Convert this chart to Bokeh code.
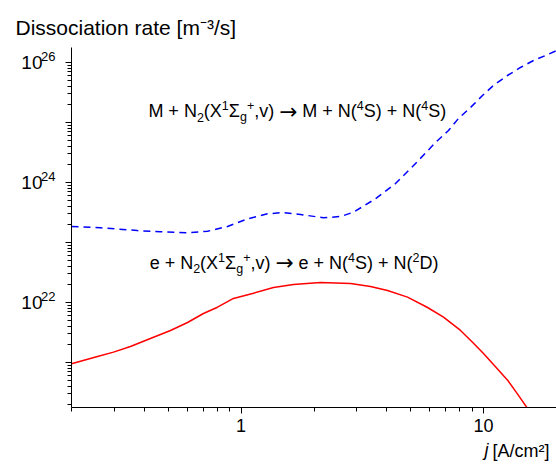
import numpy as np
from bokeh.plotting import figure
from bokeh.models import (Label, FixedTicker, Range1d, CustomJSTickFormatter, Title,
                          LogAxis, LogScale)
from bokeh.embed import file_html
from bokeh.resources import INLINE

# ---------------- data ----------------
# M + N2 -> M + N(4S) + N(4S)   (blue, dashed)
j_heavy = [0.2, 0.263, 0.374, 0.466, 0.602, 0.728, 0.880, 1.064, 1.286, 1.497, 1.760,
           2.189, 2.572, 2.910, 3.585, 4.336, 5.244, 6.340, 7.174, 7.887, 8.840, 9.906,
           10.99, 12.56, 14.21, 16.08, 18.03, 20.0]
rate_heavy = [1.85e23, 1.76e23, 1.58e23, 1.51e23, 1.45e23, 1.54e23, 1.85e23, 2.48e23,
              3.01e23, 3.16e23, 2.93e23, 2.58e23, 2.71e23, 3.20e23, 5.35e23, 9.62e23,
              2.07e24, 4.64e24, 7.36e24, 1.17e25, 1.78e25, 2.82e25, 4.14e25, 6.07e25,
              8.26e25, 1.08e26, 1.31e26, 1.58e26]

# e + N2 -> e + N(4S) + N(2D)   (red, solid)
j_elec = [0.2, 0.256, 0.298, 0.350, 0.423, 0.512, 0.602, 0.700, 0.800, 0.931, 1.126,
          1.361, 1.646, 2.127, 2.83, 3.42, 4.02, 4.86, 5.88, 6.84, 8.04, 9.01, 10.0,
          11.4, 12.6, 13.8, 15.2]
rate_elec = [9.5e20, 1.26e21, 1.49e21, 1.85e21, 2.51e21, 3.42e21, 4.64e21, 6.56e21,
             8.35e21, 1.17e22, 1.43e22, 1.78e22, 2.00e22, 2.15e22, 2.07e22, 1.85e22,
             1.58e22, 1.23e22, 8.25e21, 5.69e21, 3.42e21, 2.18e21, 1.41e21, 7.85e20,
             5.0e20, 3.0e20, 1.71e20]

x_major = [1, 10]
x_minor = [0.2, 0.3, 0.4, 0.5, 0.6, 0.7, 0.8, 0.9, 2, 3, 4, 5, 6, 7, 8, 9, 20]
y_major_exp = [21, 22, 23, 24, 25, 26]
y_label_exp = [22, 24, 26]

title_text = "Dissociation rate [m\u207b\u00b3/s]"
xlabel_var = "j"
xlabel_unit = "[A/cm\u00b2]"

FONT = "Liberation Sans"

# ---------------- figure ----------------
ylo, yhi = 10 ** 20.25, 10 ** 26.25
p = figure(width=556, height=469, x_axis_type="log", y_axis_type="log",
           x_range=Range1d(0.2, 20), y_range=Range1d(ylo, yhi),
           output_backend="svg", toolbar_location=None,
           min_border_left=71, min_border_right=0, min_border_top=47,
           min_border_bottom=62, background_fill_color="white",
           border_fill_color="white")
p.outline_line_color = None
p.xgrid.visible = False
p.ygrid.visible = False

p.title.text = title_text
p.title.align = "left"
p.title.offset = -56
p.title.text_font = FONT
p.title.text_font_size = "21px"
p.title.text_font_style = "normal"
p.title.text_color = "black"
p.title.standoff = 18

y_major = [10.0 ** e for e in y_major_exp]
y_minor = [k * 10.0 ** e for e in range(20, 27) for k in range(2, 10)]
y_lab = [10.0 ** e for e in y_label_exp]

p.xaxis.ticker = FixedTicker(ticks=x_major, minor_ticks=x_minor)
p.yaxis.ticker = FixedTicker(ticks=y_major, minor_ticks=y_minor)
p.xaxis.formatter = CustomJSTickFormatter(code="return tick.toString();")
p.yaxis.formatter = CustomJSTickFormatter(code="return '';")

for ax in (p.xaxis[0], p.yaxis[0]):
    ax.axis_line_color = "black"
    ax.axis_line_width = 1
    ax.major_tick_line_color = "black"
    ax.minor_tick_line_color = "black"
    ax.major_tick_in = 0
    ax.minor_tick_in = 0
    ax.major_tick_out = 6
    ax.minor_tick_out = 4
    ax.major_label_text_font = FONT
    ax.major_label_text_font_size = "18px"
    ax.major_label_text_color = "black"
p.xaxis.major_label_standoff = 5
p.yaxis.major_label_standoff = 0


def bare_axis(axis, size, standoff, style="normal"):
    axis.axis_line_color = None
    axis.major_tick_line_color = None
    axis.minor_tick_line_color = None
    axis.major_tick_in = 0
    axis.major_tick_out = 0
    axis.minor_tick_in = 0
    axis.minor_tick_out = 0
    axis.major_label_text_font = FONT
    axis.major_label_text_font_size = size
    axis.major_label_text_font_style = style
    axis.major_label_text_color = "black"
    axis.major_label_standoff = standoff
    return axis


# y tick labels as "10" with raised exponent: exponent axis uses a shifted copy of the range
raise_dec = 6.5 / 60.0
p.extra_y_ranges = {"exp": Range1d(ylo / 10 ** raise_dec, yhi / 10 ** raise_dec)}
try:
    p.extra_y_scales = {"exp": LogScale()}
except Exception:
    pass
exp_axis = bare_axis(LogAxis(y_range_name="exp", ticker=FixedTicker(ticks=y_lab),
                             formatter=CustomJSTickFormatter(
                                 code="return String(Math.round(Math.log10(tick)));")),
                     "13px", 10)
ten_axis = bare_axis(LogAxis(ticker=FixedTicker(ticks=y_lab),
                             formatter=CustomJSTickFormatter(code="return '10';")),
                     "19px", -4)
p.add_layout(exp_axis, "left")
p.add_layout(ten_axis, "left")

# x axis label: unit text as a title below the axis, italic "j" on the same line
xl = Title(text=xlabel_unit, align="left", offset=421, text_font=FONT,
           text_font_size="18px", text_font_style="normal", text_color="black",
           standoff=9)
p.add_layout(xl, "below")
j_pos = 10.3
j_axis = bare_axis(LogAxis(ticker=FixedTicker(ticks=[j_pos]),
                           formatter=CustomJSTickFormatter(
                               args=dict(t=xlabel_var), code="return t;")),
                   "18px", -26, "italic")
p.add_layout(j_axis, "below")

p.line(j_heavy, rate_heavy, line_color="#0000ff", line_width=1.5, line_dash="7 5")
p.line(j_elec, rate_elec, line_color="#ff0000", line_width=1.5)

# ---------------- rich text helper (reaction labels inside the frame) ----------------
W = {' ': 278, '+': 584, ',': 278, '-': 333, '/': 278, '(': 333, ')': 333, '[': 278,
     ']': 278, 'A': 667, 'D': 722, 'M': 833, 'N': 722, 'S': 667, 'X': 667, 'a': 556,
     'c': 500, 'e': 556, 'g': 556, 'i': 222, 'j': 222, 'm': 833, 'n': 556, 'o': 556,
     'r': 333, 's': 500, 't': 278, 'v': 500, '\u03a3': 620, '\u2192': 838}


def tw(s, size):
    return sum(W.get(c, 556) for c in s) * size / 1000.0


def rich(x, y, dx, dy, pieces, size, small, sup_shift, sub_shift):
    cur = 0.0
    for txt, kind in pieces:
        font = FONT
        if kind == "n":
            fs, sh = size, 0
        elif kind == "arrow":
            fs, sh, font = size * 1.2, 0, "DejaVu Sans"
        elif kind == "sup":
            fs, sh = small, sup_shift
        else:
            fs, sh = small, -sub_shift
        stripped = txt.lstrip(" ")
        lead = tw(txt[:len(txt) - len(stripped)], fs)
        p.add_layout(Label(x=x, y=y, x_offset=dx + cur + lead, y_offset=dy + sh,
                           text=stripped.rstrip(" "), text_font=font,
                           text_font_size=f"{fs}px", text_color="black",
                           text_align="left", text_baseline="alphabetic"))
        cur += tw(txt, fs)


react_heavy = [("M + N", "n"), ("2", "sub"), ("(X", "n"), ("1", "sup"), ("\u03a3", "n"),
               ("g", "sub"), ("+", "sup"), (",v) ", "n"), ("\u2192", "arrow"),
               (" M + N(", "n"), ("4", "sup"), ("S) + N(", "n"), ("4", "sup"), ("S)", "n")]
react_elec = [("e + N", "n"), ("2", "sub"), ("(X", "n"), ("1", "sup"), ("\u03a3", "n"),
              ("g", "sub"), ("+", "sup"), (",v) ", "n"), ("\u2192", "arrow"),
              (" e + N(", "n"), ("4", "sup"), ("S) + N(", "n"), ("2", "sup"), ("D)", "n")]
rich(0.415, 1.26e25, 0, 5, react_heavy, 18, 12.5, 5.5, 6)
rich(0.42, 3.83e22, 0, 5, react_elec, 18, 12.5, 5.5, 6)

open("out.html", "w").write(file_html(p, INLINE))
